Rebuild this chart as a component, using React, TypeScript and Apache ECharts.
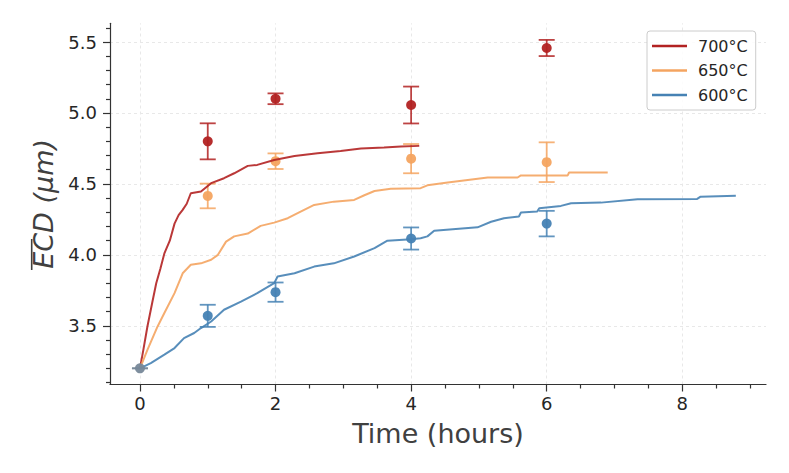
import React, { useEffect, useRef } from "react";
import * as echarts from "echarts";

// ---- data ----
const red700T = [0, 0.05, 0.11, 0.18, 0.24, 0.3, 0.36, 0.44, 0.51, 0.57, 0.63, 0.69, 0.75, 0.9, 1.05, 1.24, 1.39, 1.59, 1.73, 1.98, 2.28, 2.62, 2.96, 3.26, 3.6, 3.85, 4.12];
const red700Y = [3.2, 3.33, 3.495, 3.66, 3.8, 3.9, 4.01, 4.1, 4.22, 4.28, 4.317, 4.36, 4.434, 4.446, 4.505, 4.54, 4.575, 4.627, 4.634, 4.669, 4.697, 4.716, 4.732, 4.75, 4.756, 4.763, 4.768];

const orange650T = [0, 0.11, 0.26, 0.36, 0.51, 0.63, 0.75, 0.9, 1.05, 1.15, 1.27, 1.39, 1.59, 1.78, 1.98, 2.18, 2.37, 2.57, 2.86, 3.16, 3.31, 3.46, 3.7, 4.14, 4.24, 4.54, 5.13, 5.57, 5.62, 6.31, 6.33, 6.9];
const orange650Y = [3.2, 3.33, 3.495, 3.59, 3.73, 3.87, 3.93, 3.94, 3.965, 4.0, 4.093, 4.13, 4.15, 4.204, 4.227, 4.258, 4.305, 4.352, 4.375, 4.387, 4.42, 4.45, 4.465, 4.47, 4.49, 4.51, 4.545, 4.545, 4.56, 4.56, 4.58, 4.58];

const blue600T = [0, 0.16, 0.36, 0.51, 0.65, 0.8, 0.9, 1.05, 1.24, 1.49, 1.73, 1.98, 2.03, 2.28, 2.57, 2.86, 3.16, 3.46, 3.65, 4.0, 4.14, 4.24, 4.34, 4.98, 5.18, 5.37, 5.59, 5.62, 5.86, 5.89, 6.21, 6.36, 6.8, 7.34, 8.22, 8.27, 8.79];
const blue600Y = [3.2, 3.237, 3.296, 3.343, 3.413, 3.449, 3.484, 3.53, 3.613, 3.67, 3.73, 3.8, 3.847, 3.87, 3.917, 3.94, 3.988, 4.047, 4.1, 4.11, 4.117, 4.13, 4.17, 4.194, 4.233, 4.258, 4.27, 4.298, 4.305, 4.329, 4.345, 4.364, 4.368, 4.392, 4.394, 4.41, 4.416];

const measuredHours = [1, 2, 4, 6];
const red700Mean = [4.8, 5.1, 5.056, 5.458];
const red700Err = [0.127, 0.038, 0.13, 0.057];
const orange650Mean = [4.415, 4.66, 4.678, 4.653];
const orange650Err = [0.087, 0.055, 0.103, 0.14];
const blue600Mean = [3.57, 3.737, 4.115, 4.22];
const blue600Err = [0.078, 0.068, 0.078, 0.09];

const initialHours = [0];
const initialMean = [3.2];
const initialErr = [0];

const xMajorTicks = [0, 2, 4, 6, 8];
const xMinorTicks = [0.5, 1, 1.5, 2.5, 3, 3.5, 4.5, 5, 5.5, 6.5, 7, 7.5, 8.5, 9];
const yMajorTicks = [3.5, 4.0, 4.5, 5.0, 5.5];
const yMinorTicks = [3.1, 3.2, 3.3, 3.4, 3.6, 3.7, 3.8, 3.9, 4.1, 4.2, 4.3, 4.4, 4.6, 4.7, 4.8, 4.9, 5.1, 5.2, 5.3, 5.4, 5.6];

const seriesNames = ["700°C", "650°C", "600°C"];

const X_MIN = -0.442;
const X_MAX = 9.235;
const Y_MIN = 3.086;
const Y_MAX = 5.632;

const RED = "#b22222";
const ORANGE = "#f4a460";
const BLUE = "#4682b4";
const GRAY = "#778899";
const FONT = "DejaVu Sans";
const AXIS_COLOR = "#333333";
const GRID_COLOR = "#e8e8e8";

const zip = (a: number[], b: number[]) => a.map((v, i) => [v, b[i]]);
const errData = (xs: number[], m: number[], e: number[]) =>
  xs.map((x, i) => [x, m[i] - e[i], m[i] + e[i]]);

function errorSeries(xs: number[], m: number[], e: number[], color: string) {
  return {
    type: "custom",
    data: errData(xs, m, e),
    encode: { x: 0, y: [1, 2] },
    z: 2,
    renderItem: (_params: any, api: any) => {
      const x = api.value(0);
      const lo = api.coord([x, api.value(1)]);
      const hi = api.coord([x, api.value(2)]);
      const w = 8;
      const style = { stroke: color, lineWidth: 1.8, opacity: 0.85 };
      return {
        type: "group",
        children: [
          { type: "line", shape: { x1: lo[0], y1: lo[1], x2: hi[0], y2: hi[1] }, style },
          { type: "line", shape: { x1: lo[0] - w, y1: lo[1], x2: lo[0] + w, y2: lo[1] }, style },
          { type: "line", shape: { x1: hi[0] - w, y1: hi[1], x2: hi[0] + w, y2: hi[1] }, style },
        ],
      };
    },
  };
}

function markerSeries(xs: number[], m: number[], color: string) {
  return {
    type: "scatter",
    data: zip(xs, m),
    symbol: "circle",
    symbolSize: 10,
    z: 2,
    itemStyle: { color, opacity: 0.95 },
  };
}

function lineSeries(name: string, t: number[], y: number[], color: string) {
  return {
    type: "line",
    name,
    data: zip(t, y),
    symbol: "none",
    showSymbol: false,
    z: 3,
    lineStyle: { color, width: 2, opacity: 0.9 },
    itemStyle: { color },
  };
}

export default function App() {
  const ref = useRef<HTMLDivElement>(null);
  useEffect(() => {
    if (!ref.current) return;
    const chart = echarts.init(ref.current, undefined, { renderer: "svg" });
    const tickLine = { color: AXIS_COLOR, width: 1.2 };
    const gridLines = {
      type: "line",
      data: [],
      silent: true,
      z: 0,
      markLine: {
        silent: true,
        z: 0,
        symbol: ["none", "none"],
        label: { show: false },
        emphasis: { disabled: true },
        lineStyle: { color: GRID_COLOR, width: 1, type: [3, 3] },
        data: [
          ...xMajorTicks.map((v) => ({ xAxis: v })),
          ...yMajorTicks.map((v) => ({ yAxis: v })),
        ],
      },
    };
    chart.setOption({
      animation: false,
      backgroundColor: "#ffffff",
      grid: { left: 110, right: 23, top: 23.3, bottom: 88.5, containLabel: false, outerBoundsMode: "none" },
      legend: {
        data: seriesNames,
        orient: "vertical",
        left: 647,
        top: 31,
        icon: "rect",
        itemWidth: 35,
        itemHeight: 2.5,
        itemGap: 8.5,
        padding: [7, 8, 7, 5],
        backgroundColor: "rgba(255,255,255,0.85)",
        borderColor: "#cccccc",
        borderWidth: 1,
        borderRadius: 3,
        textStyle: { fontFamily: FONT, fontSize: 16, color: "#262626", padding: [0, 0, 0, 6] },
      },
      xAxis: [
        {
          type: "value",
          min: X_MIN,
          max: X_MAX,
          position: "bottom",
          name: "Time (hours)",
          nameLocation: "middle",
          nameGap: 35,
          nameTextStyle: { fontFamily: FONT, fontSize: 27, color: "#404040" },
          axisLine: { show: true, onZero: false, lineStyle: tickLine },
          axisTick: { show: true, length: 7, customValues: xMajorTicks, lineStyle: tickLine },
          axisLabel: {
            customValues: xMajorTicks,
            fontFamily: FONT,
            fontSize: 18,
            color: "#262626",
            margin: 10,
            formatter: (v: number) => String(v),
          },
          splitLine: { show: false },
        },
        {
          type: "value",
          min: X_MIN,
          max: X_MAX,
          position: "bottom",
          axisLine: { show: false, onZero: false },
          axisTick: { show: true, length: 4, customValues: xMinorTicks, lineStyle: tickLine },
          axisLabel: { show: false },
          splitLine: { show: false },
        },
      ],
      yAxis: [
        {
          type: "value",
          min: Y_MIN,
          max: Y_MAX,
          position: "left",
          name: "ECD (μm)",
          nameLocation: "middle",
          nameGap: 51,
          nameTextStyle: { fontFamily: FONT, fontSize: 27, fontStyle: "italic", color: "#404040" },
          axisLine: { show: true, onZero: false, lineStyle: tickLine },
          axisTick: { show: true, length: 7, customValues: yMajorTicks, lineStyle: tickLine },
          axisLabel: {
            customValues: yMajorTicks,
            fontFamily: FONT,
            fontSize: 18,
            color: "#262626",
            margin: 13,
            formatter: (v: number) => v.toFixed(1),
          },
          splitLine: { show: false },
        },
        {
          type: "value",
          min: Y_MIN,
          max: Y_MAX,
          position: "left",
          axisLine: { show: false, onZero: false },
          axisTick: { show: true, length: 4, customValues: yMinorTicks, lineStyle: tickLine },
          axisLabel: { show: false },
          splitLine: { show: false },
        },
      ],
      graphic: [
        {
          type: "line",
          shape: { x1: 31.7, y1: 239, x2: 31.7, y2: 270 },
          style: { stroke: "#404040", lineWidth: 1.6 },
          silent: true,
        },
      ],
      series: [
        gridLines,
        errorSeries(measuredHours, red700Mean, red700Err, RED),
        markerSeries(measuredHours, red700Mean, RED),
        errorSeries(measuredHours, orange650Mean, orange650Err, ORANGE),
        markerSeries(measuredHours, orange650Mean, ORANGE),
        errorSeries(measuredHours, blue600Mean, blue600Err, BLUE),
        markerSeries(measuredHours, blue600Mean, BLUE),
        lineSeries(seriesNames[0], red700T, red700Y, RED),
        lineSeries(seriesNames[1], orange650T, orange650Y, ORANGE),
        lineSeries(seriesNames[2], blue600T, blue600Y, BLUE),
        errorSeries(initialHours, initialMean, initialErr, GRAY),
        { ...markerSeries(initialHours, initialMean, GRAY), z: 4 },
      ],
    });
    return () => chart.dispose();
  }, []);
  return (
    <div
      ref={ref}
      style={{ position: "absolute", left: 0, top: 0, width: 789, height: 473 }}
    />
  );
}
